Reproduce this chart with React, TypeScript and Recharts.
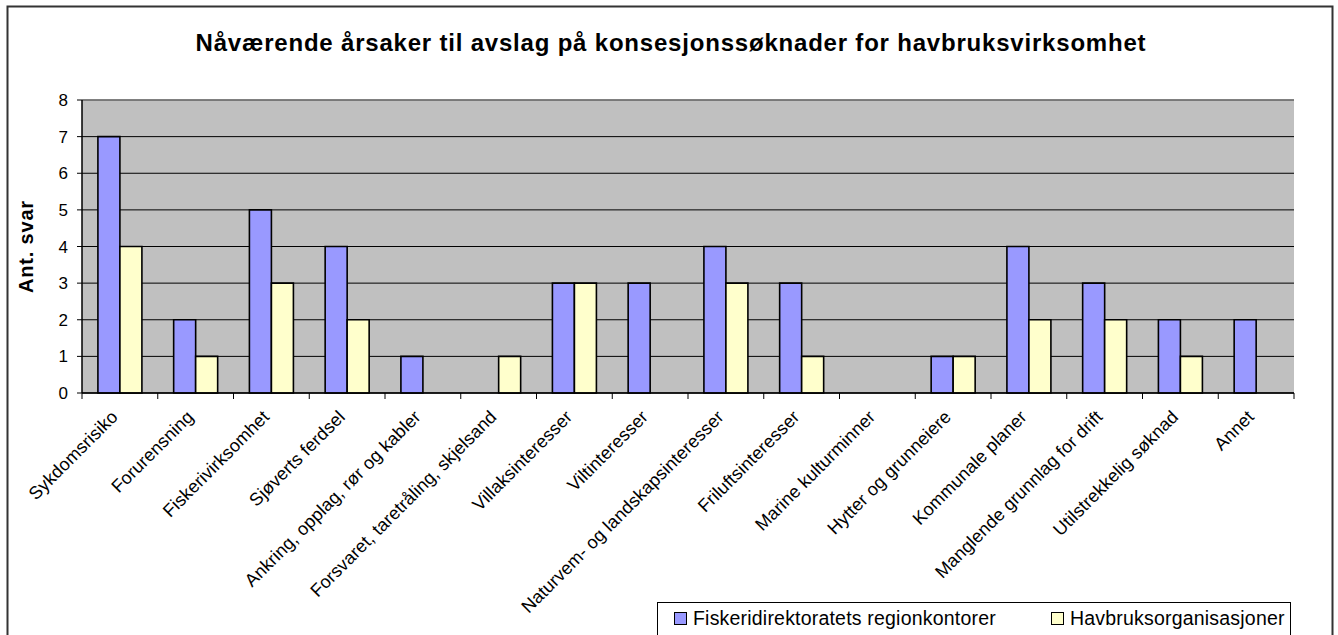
import React from 'react';
import { BarChart, Bar, XAxis, YAxis, CartesianGrid, ReferenceLine } from 'recharts';

const categories = [
  'Sykdomsrisiko',
  'Forurensning',
  'Fiskerivirksomhet',
  'Sjøverts ferdsel',
  'Ankring, opplag, rør og kabler',
  'Forsvaret, taretråling, skjelsand',
  'Villaksinteresser',
  'Viltinteresser',
  'Naturvem- og landskapsinteresser',
  'Friluftsinteresser',
  'Marine kulturminner',
  'Hytter og grunneiere',
  'Kommunale planer',
  'Manglende grunnlag for drift',
  'Utilstrekkelig søknad',
  'Annet',
];
const fiskeridir = [7, 2, 5, 4, 1, 0, 3, 3, 4, 3, 0, 1, 4, 3, 2, 2];
const havbruk = [4, 1, 3, 2, 0, 1, 3, 0, 3, 1, 0, 1, 2, 2, 1, 0];
const yTicks = [0, 1, 2, 3, 4, 5, 6, 7, 8];

const seriesNames = ['Fiskeridirektoratets regionkontorer', 'Havbruksorganisasjoner'];
const title = 'Nåværende årsaker til avslag på konsesjonssøknader for havbruksvirksomhet';

const data = categories.map((name, i) => ({ name, a: fiskeridir[i], b: havbruk[i] }));

const W = 1338;
const H = 635;
const M = { top: 100, right: 44, left: 22, bottom: 0 };
const Y_W = 60;
const X_H = 242;
const band = (W - M.left - Y_W - M.right) / categories.length;
const FONT = 'Liberation Sans, Arial, sans-serif';

function CatTick(props: any) {
  const { x, y, payload, index } = props;
  const ty = y + 25;
  return (
    <g>
      {index === 0 && <line x1={x - band / 2} y1={y} x2={x - band / 2} y2={y + 6} stroke="#000" />}
      <line x1={x + band / 2} y1={y} x2={x + band / 2} y2={y + 6} stroke="#000" />
      <text
        x={x - 1}
        y={ty}
        textAnchor="end"
        transform={`rotate(-45, ${x - 1}, ${ty})`}
        fontSize={18}
        letterSpacing={0.1}
        fontFamily={FONT}
        fill="#000"
      >
        {payload.value}
      </text>
    </g>
  );
}

function YLabel(props: any) {
  const { viewBox } = props;
  const cx = viewBox.x + 4;
  const cy = viewBox.y + viewBox.height / 2;
  return (
    <text
      x={cx}
      y={cy}
      textAnchor="middle"
      dominantBaseline="central"
      transform={`rotate(-90, ${cx}, ${cy})`}
      fontSize={20}
      fontWeight="bold"
      fontFamily={FONT}
      letterSpacing={0.8}
      fill="#000"
    >
      Ant. svar
    </text>
  );
}

export default function App() {
  return (
    <div style={{ position: 'absolute', left: 0, top: 0, width: W, height: H, overflow: 'hidden', background: '#fff' }}>
      <svg width={W} height={H} style={{ position: 'absolute', left: 0, top: 0 }}>
        <rect x={7.5} y={6.5} width={1325} height={720} fill="#fff" stroke="#333" strokeWidth={2} />
        <text
          x={671}
          y={51}
          textAnchor="middle"
          fontSize={24}
          fontWeight="bold"
          fontFamily={FONT}
          letterSpacing={0.8}
          fill="#000"
        >
          {title}
        </text>
      </svg>
      <div style={{ position: 'absolute', left: 0, top: 0 }}>
        <BarChart width={W} height={H} data={data} margin={M} barCategoryGap="21%" barGap={0}>
          <CartesianGrid vertical={false} fill="#C0C0C0" stroke="#000" strokeWidth={1} />
          <ReferenceLine y={8} stroke="#808080" strokeWidth={1.5} />
          <XAxis
            dataKey="name"
            interval={0}
            height={X_H}
            tickSize={0}
            tickMargin={0}
            tickLine={false}
            tick={<CatTick />}
            axisLine={{ stroke: '#000', strokeWidth: 1.5 }}
          />
          <YAxis
            width={Y_W}
            domain={[0, 8]}
            ticks={yTicks}
            interval={0}
            tickSize={5}
            tickMargin={9}
            tick={{ fontSize: 17, fontFamily: FONT, fill: '#000' }}
            tickLine={{ stroke: '#000' }}
            axisLine={{ stroke: '#000', strokeWidth: 1.5 }}
            label={<YLabel />}
          />
          <Bar dataKey="a" name={seriesNames[0]} fill="#9999FF" stroke="#000" strokeWidth={1.6} isAnimationActive={false} />
          <Bar dataKey="b" name={seriesNames[1]} fill="#FFFFCC" stroke="#000" strokeWidth={1.6} isAnimationActive={false} />
        </BarChart>
      </div>
      <div
        style={{
          position: 'absolute',
          left: 657,
          top: 602,
          width: 632,
          height: 60,
          border: '1px solid #000',
          background: '#fff',
          fontFamily: FONT,
          fontSize: 19.5,
          letterSpacing: 0.2,
          color: '#000',
        }}
      >
        {seriesNames.map((s, i) => (
          <div key={s} style={{ position: 'absolute', left: i === 0 ? 16 : 393, top: 4, whiteSpace: 'nowrap', display: 'flex', alignItems: 'center' }}>
            <span style={{ display: 'inline-block', width: 11, height: 11, border: '1px solid #000', background: i === 0 ? '#9999FF' : '#FFFFCC', marginRight: 6 }} />
            <span>{s}</span>
          </div>
        ))}
      </div>
    </div>
  );
}
